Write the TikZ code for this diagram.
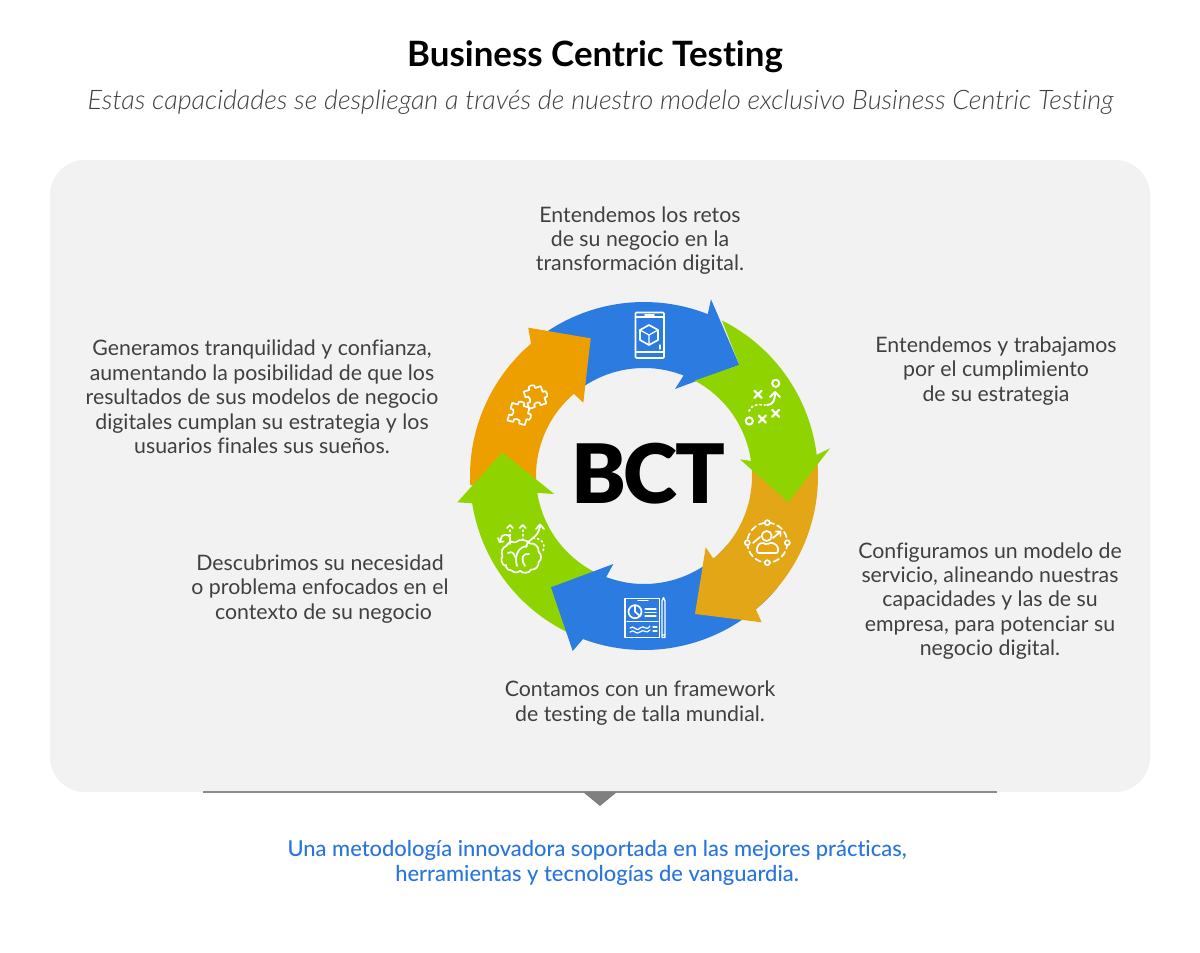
\documentclass[tikz,border=0pt]{standalone}
\usepackage{fontspec}
\usetikzlibrary{calc,arrows.meta}
\setmainfont{Lato}[Ligatures=NoCommon]
\newfontfamily\lightf{Lato Light}[Ligatures=NoCommon]
\newfontfamily\medf{Lato Medium}[Ligatures=NoCommon]
\newfontfamily\heavyf{Lato Black}[Ligatures=NoCommon,LetterSpace=-3]
\definecolor{panelc}{HTML}{F2F2F2}
\definecolor{txt}{HTML}{404040}
\definecolor{bluec}{HTML}{2B7BE0}
\definecolor{greenc}{HTML}{8FD400}
\definecolor{orangea}{HTML}{EE9F00}
\definecolor{orangeb}{HTML}{E3A617}
\definecolor{linkc}{HTML}{2A74DD}
\begin{document}
\begin{tikzpicture}[x=1pt,y=-1pt,
  lab/.style={font=\fontsize{21.3}{24.4}\selectfont,text=txt,align=center,inner sep=0pt,anchor=center},
  icon/.style={draw=white,line width=1.7pt,fill=none,line cap=round,line join=round},
  dotline/.style={icon,dash pattern=on 1.5pt off 3pt},
  thin icon/.style={icon,line width=1.2pt}]
\useasboundingbox (0,0) rectangle (1200,953);
\fill[white] (0,0) rectangle (1200,953);
\fill[panelc,rounded corners=35pt] (50,160) rectangle (1150,792);
\coordinate (c) at (644,476);
\def\ro{174}\def\ri{108}
% blue top
\fill[bluec] ($(c)+(235:\ro)$) arc[start angle=235,end angle=291.5,radius=\ro] -- (711,299.3) -- (739.3,365) -- (675,389) -- ($(c)+(291.5:\ri)$) arc[start angle=291.5,end angle=235,radius=\ri] -- cycle;
% orange top-left
\fill[orangea] ($(c)+(177:\ro)$) arc[start angle=177,end angle=229.5,radius=\ro] -- (528.3,327.7) -- (590.7,338.3) -- (583.3,402.7) -- ($(c)+(229.5:\ri)$) arc[start angle=229.5,end angle=177,radius=\ri] -- cycle;
% green left
\fill[greenc] ($(c)+(100:\ro)$) arc[start angle=100,end angle=171,radius=\ro] -- (457.3,502.3) -- (502.3,452.3) -- (554.3,494) -- ($(c)+(171:\ri)$) arc[start angle=171,end angle=100,radius=\ri] -- cycle;
% blue bottom
\fill[bluec] ($(c)+(40:\ro)$) arc[start angle=40,end angle=110.5,radius=\ro] -- (572.7,651) -- (551,587.3) -- (613.3,564) -- ($(c)+(110.5:\ri)$) arc[start angle=110.5,end angle=40,radius=\ri] -- cycle;
% orange lower right
\fill[orangeb] ($(c)+(-5:\ro)$) arc[start angle=-5,end angle=50,radius=\ro] -- (761.7,622.3) -- (695,614) -- (705.7,547.3) -- ($(c)+(50:\ri)$) arc[start angle=50,end angle=-5,radius=\ri] -- cycle;
% green right, its tail cut to the head of the blue arrow
\fill[greenc] ($(c)+(-63.4:\ro)$) arc[start angle=-63.4,end angle=-7,radius=\ro] -- (830,448.3) -- (788.3,502.3) -- (740,459.3) -- ($(c)+(-8:\ri)$) arc[start angle=-8,end angle=-62,radius=\ri] -- (739.3,365) -- cycle;
% centre
\node[font=\heavyf\fontsize{82}{82}\selectfont,text=black,inner sep=0pt] (bct) at (648,473.5) {BCT};
% title
\node[font=\fontsize{34.9}{35}\selectfont\bfseries,text=black,inner sep=0pt] (title) at (595,57) {Business Centric Testing};
\node[font=\lightf\fontsize{26.9}{27}\selectfont\itshape,text=txt,inner sep=0pt] (sub) at (600.5,102) {Estas capacidades se despliegan a través de nuestro modelo exclusivo Business Centric Testing};
% labels
\node[lab] (t1) at (640,240.5) {Entendemos los retos\\de su negocio en la\\transformación digital.};
\node[lab] (t2) at (996,371) {Entendemos y trabajamos\\por el cumplimiento\\de su estrategia};
\node[lab] (t3) at (990,601) {Configuramos un modelo de\\servicio, alineando nuestras\\capacidades y las de su\\empresa, para potenciar su\\negocio digital.};
\node[lab] (t4) at (640,703) {Contamos con un framework\\de testing de talla mundial.};
\node[lab] (t5) at (320,589) {Descubrimos su necesidad\\o problema enfocados en el\\\hspace*{7pt}contexto de su negocio};
\node[lab] (t6) at (262,397) {Generamos tranquilidad y confianza,\\aumentando la posibilidad de que los\\resultados de sus modelos de negocio\\digitales cumplan su estrategia y los\\usuarios finales sus sueños.};
% pointer
\draw[draw=black!45,line width=1.2pt] (203,792) -- (997,792);
\fill[black!50] (583,792) -- (617,792) -- (600,806) -- cycle;
% closing text
\node[lab,font=\medf\fontsize{21.9}{25}\selectfont,text=linkc] (t7) at (597,863) {Una metodología innovadora soportada en las mejores prácticas,\\herramientas y tecnologías de vanguardia.};
% tablet icon
\draw[icon,rounded corners=1pt] (635.5,312.5) rectangle (664,358);
\draw[icon] (635.5,317) -- (664,317) (635.5,352) -- (664,352) (645,314.7) -- (654,314.7);
\draw[icon] (649,325) -- (658,330) -- (658,340) -- (649,345) -- (640,340) -- (640,330) -- cycle;
\draw[thin icon] (640,330) -- (649,335) -- (658,330) (649,335) -- (649,345);
\draw[thin icon] (660,345) -- (660,349);
% plays icon
\draw[icon,line width=2pt] (775.7,383.3) circle[radius=3.6] (749.3,421) circle[radius=3.6];
\foreach \p in {(758,394.3),(775.7,413.3),(762.3,419)}
  \draw[icon,line width=2.2pt] \p +(-3.5,-3.5) -- +(3.5,3.5) \p +(-3.5,3.5) -- +(3.5,-3.5);
\draw[dotline,line width=1.8pt] (749,411) .. controls (751,405) and (757,404) .. (765,405);
\draw[icon,line width=2pt] (767,405) .. controls (773,405) and (775,400) .. (775,393);
\draw[icon,line width=2pt] (770,397) -- (775,392) -- (780,397);
% person icon
\draw[icon,dash pattern=on 6pt off 3.5pt] (767.3,542.7) circle[radius=20];
\foreach \p in {(767.3,522.7),(787.3,542.7),(767.3,562.7),(747.3,542.7)}
  \filldraw[icon,fill=orangeb] \p circle[radius=2.5];
\draw[icon] (766.7,536) circle[radius=5];
\draw[icon,rounded corners=2pt] (757,553) -- (757,546) -- (762,542) -- (766.7,545) -- (771,542) -- (778,546) -- (778,553) -- cycle;
\draw[icon] (753,543) -- (760,537);
\draw[icon] (773,538) -- (780,532) (776,531.5) -- (780.5,531.5) -- (780.5,536);
% document icon
\draw[icon] (625,598.5) rectangle (659.5,637.5);
\draw[icon,line width=1.3pt] (662,601) -- (662,635) (665,601) -- (665,635) (662,601) -- (663.5,597.5) -- (665,601) (662,635) -- (665,635) -- (665,637.5) -- (662,637.5) -- cycle;
\draw[icon] (635,611.7) circle[radius=6.5];
\draw[icon] (635,611.7) -- (635,605.2) (635,611.7) -- (640,616);
\draw[thin icon] (638,600.8) -- (648,600.8);
\draw[thin icon] (645,609) -- (656,609) (645,612.5) -- (656,612.5) (645,616) -- (656,616);
\draw[thin icon] (627,621.5) -- (658,621.5);
\draw[thin icon] (630,628) .. controls (634,624) and (636,633) .. (640,628) .. controls (644,624) and (646,632) .. (650,626);
\draw[thin icon] (630,632) .. controls (634,628) and (636,636) .. (640,632) .. controls (644,628) and (646,635) .. (650,630);
\draw[thin icon] (653,627) -- (657,627) (653,631) -- (657,631);
% brain icon
\draw[icon,rounded corners=1pt] (506,566) to[bend left=60] (503,556) to[bend left=60] (507,546) to[bend left=60] (515,543) to[bend left=50] (530,544) to[bend left=70] (538,552) to[bend left=70] (538,562) to[bend left=70] (531,569) to[bend left=70] (520,570) to[bend left=70] (512,570) to[bend left=50] cycle;
\draw[icon] (517,566) .. controls (514,556) and (518,547) .. (527,546) (525,566) .. controls (520,558) and (523,553) .. (529,554);
\draw[icon] (508,553) .. controls (512,551) and (514,553) .. (515,557);
\draw[dotline] (510,530) -- (510,544);
\draw[icon] (507,528) -- (510,525) -- (513,528);
\draw[dotline] (522.7,530) -- (522.7,540);
\draw[icon] (519.7,528) -- (522.7,525) -- (525.7,528);
\draw[icon] (526,547) .. controls (528,537) and (538,540) .. (540,526);
\draw[icon] (536,529) -- (540,524.5) -- (544,529);
\draw[icon] (510,542) .. controls (512,535) and (506,533) .. (502,536) -- (500,541);
\draw[icon] (498,538) -- (499.5,542) -- (503.5,541.5);
\draw[dotline] (533,538) .. controls (541,538) and (546,543) .. (543,551);
% puzzle icon
\foreach \cx/\cy/\rt in {535/397.5/18,518.5/414/-15}{
\begin{scope}[shift={(\cx,\cy)},rotate=\rt]
\draw[icon] (-9,-9) -- (-3,-9) .. controls (-6,-14) and (6,-14) .. (3,-9) -- (9,-9) -- (9,-3) .. controls (14,-6) and (14,6) .. (9,3) -- (9,9) -- (3,9) .. controls (6,4) and (-6,4) .. (-3,9) -- (-9,9) -- (-9,3) .. controls (-4,6) and (-4,-6) .. (-9,-3) -- cycle;
\end{scope}}
\end{tikzpicture}
\end{document}
